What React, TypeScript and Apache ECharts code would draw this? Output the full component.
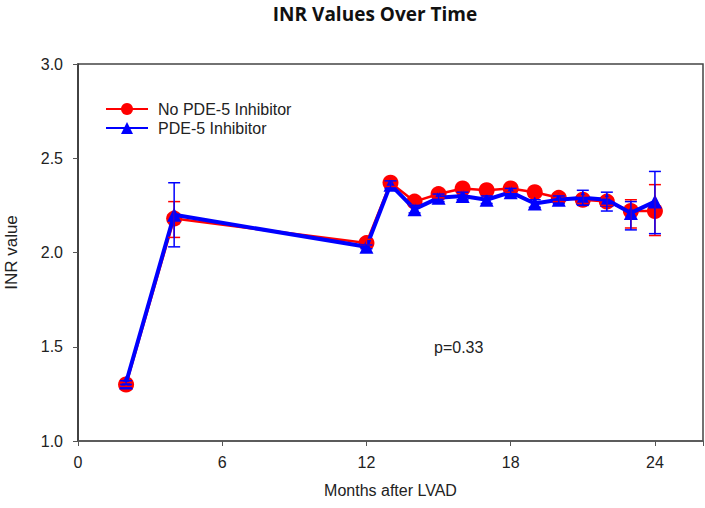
import React, { useEffect, useRef } from "react";
import * as echarts from "echarts";

const months = [2, 4, 12, 13, 14, 15, 16, 17, 18, 19, 20, 21, 22, 23, 24];
const noPdeValues = [1.30, 2.18, 2.05, 2.37, 2.27, 2.31, 2.34, 2.33, 2.34, 2.32, 2.29, 2.28, 2.27, 2.22, 2.22];
const noPdeLow = [1.29, 2.08, 2.04, 2.35, 2.25, 2.29, 2.32, 2.31, 2.32, 2.30, 2.27, 2.26, 2.25, 2.13, 2.09];
const noPdeHigh = [1.31, 2.27, 2.07, 2.39, 2.29, 2.33, 2.36, 2.35, 2.36, 2.34, 2.31, 2.30, 2.29, 2.28, 2.36];
const pdeValues = [1.31, 2.20, 2.03, 2.36, 2.23, 2.29, 2.30, 2.28, 2.32, 2.26, 2.28, 2.29, 2.28, 2.21, 2.27];
const pdeLow = [1.30, 2.03, 2.02, 2.34, 2.21, 2.27, 2.28, 2.26, 2.30, 2.24, 2.26, 2.25, 2.22, 2.12, 2.10];
const pdeHigh = [1.32, 2.37, 2.04, 2.38, 2.25, 2.31, 2.32, 2.30, 2.34, 2.28, 2.30, 2.33, 2.32, 2.27, 2.43];
const xTicks = [0, 6, 12, 18, 24];
const seriesNames = ["No PDE-5 Inhibitor", "PDE-5 Inhibitor"];

const RED = "#ff0000";
const BLUE = "#0000ff";
const FONT = "Liberation Sans";

function errorSeries(low: number[], high: number[], color: string, z: number) {
  return {
    type: "custom",
    z,
    silent: true,
    data: months.map((m, i) => [m, low[i], high[i]]),
    encode: { x: 0, y: [1, 2] },
    renderItem: (params: any, api: any) => {
      const x = api.value(0);
      const lo = api.coord([x, api.value(1)]);
      const hi = api.coord([x, api.value(2)]);
      const hw = 6;
      const style = { stroke: color, lineWidth: 1.5 };
      return {
        type: "group",
        children: [
          { type: "line", shape: { x1: lo[0], y1: lo[1], x2: hi[0], y2: hi[1] }, style },
          { type: "line", shape: { x1: lo[0] - hw, y1: lo[1], x2: lo[0] + hw, y2: lo[1] }, style },
          { type: "line", shape: { x1: hi[0] - hw, y1: hi[1], x2: hi[0] + hw, y2: hi[1] }, style },
        ],
      };
    },
  };
}

export default function App() {
  const ref = useRef<HTMLDivElement>(null);
  useEffect(() => {
    const chart = echarts.init(ref.current!, null, { renderer: "svg" });
    const axisColor = "#555";
    chart.setOption({
      animation: false,
      backgroundColor: "#fff",
      title: {
        text: "INR Values Over Time",
        left: 375,
        textAlign: "center",
        top: 3,
        padding: 0,
        textStyle: { fontFamily: "Open Sans", fontWeight: "bold", fontSize: 19, color: "#111", lineHeight: 22 },
      },
      legend: {
        orient: "vertical",
        left: 100,
        top: 96,
        itemGap: 3,
        itemWidth: 42,
        itemHeight: 15,
        data: seriesNames,
        textStyle: { fontFamily: FONT, fontSize: 16, color: "#222", padding: [0, 0, 0, 5] },
      },
      grid: { left: 78, right: 2, top: 64, bottom: 67, containLabel: false, outerBoundsMode: "none" },
      xAxis: {
        type: "value",
        min: 0,
        max: 26,
        interval: 6,
        name: "Months after LVAD",
        nameLocation: "middle",
        nameGap: 41,
        nameTextStyle: { fontFamily: FONT, fontSize: 16, color: "#222" },
        axisLine: { show: true, lineStyle: { color: axisColor, width: 1.5 } },
        axisTick: { show: true, length: 5, lineStyle: { color: axisColor } },
        axisLabel: {
          fontFamily: FONT,
          fontSize: 16,
          color: "#222",
          margin: 13,
          formatter: (v: number) => (xTicks.includes(v) ? String(v) : ""),
        },
        splitLine: { show: false },
      },
      yAxis: {
        type: "value",
        min: 1.0,
        max: 3.0,
        interval: 0.5,
        name: "INR value",
        nameLocation: "middle",
        nameGap: 58,
        nameRotate: 90,
        nameTextStyle: { fontFamily: FONT, fontSize: 17, color: "#222" },
        axisLine: { show: true, lineStyle: { color: "#333", width: 1.5 } },
        axisTick: { show: true, length: 5, lineStyle: { color: axisColor } },
        axisLabel: {
          fontFamily: FONT,
          fontSize: 16,
          color: "#222",
          margin: 15,
          formatter: (v: number) => v.toFixed(1),
        },
        splitLine: { show: false },
      },
      graphic: [
        {
          type: "rect",
          shape: { x: 78, y: 64, width: 625, height: 377 },
          style: { fill: "none", stroke: "#444", lineWidth: 1.5 },
          silent: true,
          z: 0,
        },
        {
          type: "text",
          left: 434,
          top: 339,
          style: { text: "p=0.33", fontFamily: FONT, fontSize: 16, fill: "#222" },
        },
      ],
      series: [
        {
          name: seriesNames[0],
          type: "line",
          z: 2,
          data: months.map((m, i) => [m, noPdeValues[i]]),
          symbol: "circle",
          symbolSize: 16,
          itemStyle: { color: RED },
          lineStyle: { color: RED, width: 2.5 },
        },
        {
          name: seriesNames[1],
          type: "line",
          z: 3,
          data: months.map((m, i) => [m, pdeValues[i]]),
          symbol: "triangle",
          symbolSize: 14,
          itemStyle: { color: BLUE },
          lineStyle: { color: BLUE, width: 4 },
        },
        errorSeries(noPdeLow, noPdeHigh, RED, 4),
        errorSeries(pdeLow, pdeHigh, BLUE, 5),
      ],
    });
    return () => chart.dispose();
  }, []);
  return <div ref={ref} style={{ position: "fixed", left: 0, top: 0, width: 705, height: 508 }} />;
}
